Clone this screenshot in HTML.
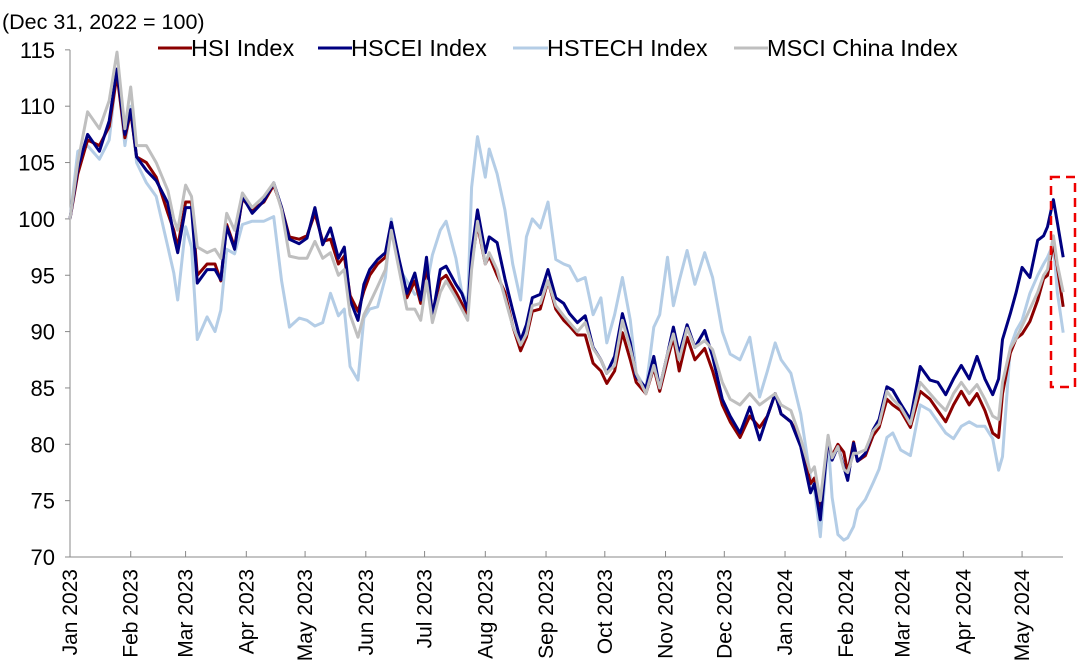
<!DOCTYPE html>
<html><head><meta charset="utf-8"><style>
html,body{margin:0;padding:0;background:#fff;}
svg{display:block;font-family:"Liberation Sans",Arial,sans-serif;}
</style></head><body>
<svg id="chart" width="1080" height="663" viewBox="0 0 1080 663">
<text x="2" y="29" font-size="21.5" fill="#000">(Dec 31, 2022 = 100)</text>
<g id="legend">
<g><line x1="158" y1="48" x2="192" y2="48" stroke="#8b0000" stroke-width="3"/><text x="191" y="56" font-size="23.5">HSI Index</text></g>
<g><line x1="318" y1="48" x2="352" y2="48" stroke="#000080" stroke-width="3"/><text x="351" y="56" font-size="23.5">HSCEI Index</text></g>
<g><line x1="513" y1="48" x2="548" y2="48" stroke="#b4cde6" stroke-width="3"/><text x="547" y="56" font-size="23.5">HSTECH Index</text></g>
<g><line x1="734" y1="48" x2="768" y2="48" stroke="#bfbfbf" stroke-width="3"/><text x="767" y="56" font-size="23.5">MSCI China Index</text></g>
</g>
<g id="axes"></g>
<g id="series"></g>
<rect x="1051" y="177" width="24" height="210" fill="none" stroke="#e00" stroke-width="2.5" stroke-dasharray="9,6"/>
</svg>
<script>
const days = [0,4,9,15,20,24,28,31,34,39,
44,50,53,55,59,62,65,70,74,77,
80,84,88,93,99,104,108,112,117,121,
125,129,133,137,140,143,147,150,153,157,
161,164,168,172,176,179,182,185,189,192,
197,200,203,205,208,212,214,218,222,226,
230,233,236,240,244,248,252,255,259,263,
267,271,274,278,282,286,289,294,298,301,
305,308,311,315,319,324,328,333,337,342,
347,352,356,360,363,368,373,378,380,383,
387,389,392,395,397,400,402,406,410,413,
417,420,424,429,434,439,443,447,451,455,
459,463,467,471,474,476,480,483,486,490,
494,497,499,502,504,507];
const hsi = [100,104,107,106.5,108.2,112.8,107.2,109.5,105.5,105,
103.7,100.5,99,97.5,101.5,101.5,95,96,96,94.5,
99.5,97.5,101.8,100.8,101.5,103,101,98.4,98.2,98.5,
100.5,98,98.2,96,96.7,93.2,91.8,93.6,95,96,
96.6,99.3,96,93,94.5,92.5,95.8,91.6,94.6,95,
93.5,92.5,91.5,96,99.5,96,96.7,95,93.5,90.5,
88.3,89.5,91.8,92,94.5,92,91,90.5,89.7,89.7,
87.2,86.5,85.4,86.5,89.9,87.5,85.5,84.5,86.8,84.7,
87.5,89.5,86.5,89.5,87.5,88.5,86.5,83.5,82,80.6,
82.5,81.5,82.5,84.5,82.7,82,80.4,76.5,77,74.5,
80.3,79,80,79.3,77.5,80.2,78.5,79,80.8,81.5,
84,83.5,83,81.5,84.7,84,83,82,83.5,84.7,
83.5,84.5,83,81,80.6,84.5,88.1,89.4,89.8,90.9,
92.8,94.7,95,97.9,95.8,92.2];
const hscei = [100,104.5,107.5,106,108.7,113.3,107.5,109.7,105.5,104.3,
103.4,101.4,98.5,97,101,101,94.3,95.5,95.5,94.6,
99.3,97.3,102,100.5,101.6,103.2,101,98.2,97.8,98.3,
101,97.7,99.2,96.5,97.5,92.8,91,94.2,95.5,96.4,
97,99.7,96.4,93.4,95.2,92.8,96.6,91.3,95.5,95.8,
94.2,93.4,91.9,97,100.8,97,98.4,97.9,94.7,91.9,
89.2,90.6,93,93.3,95.5,93,92.5,91.6,90.8,91.4,
88.6,87.5,86.3,87.8,91.6,89,86,85,87.8,85,
88,90.4,88,90.6,88.6,90.1,87.8,84,82.5,81,
83.3,80.4,82.5,84.5,82.7,82,79.8,75.7,76.5,73.3,
80.6,78.6,79.8,78,76.8,80.1,78.5,79.2,81.3,82.2,
85.1,84.8,83.6,82.2,86.9,85.7,85.5,84.4,85.8,87,
85.8,87.8,85.8,84.4,85.8,89.3,91.6,93.5,95.7,94.8,
98.1,98.5,99.3,101.7,99.7,96.6];
const hstech = [100,106,106.5,105.3,107,113.2,106.5,110,105,103.2,
102,97.5,95.2,92.8,99.3,97.5,89.3,91.3,90,91.9,
97.3,96.9,99.5,99.8,99.8,100.2,94.5,90.4,91.2,91,
90.5,90.8,93.4,91.4,92,86.9,85.7,91.2,92,92.2,
94.8,100,95.6,94.5,93.3,93.5,94,96.8,99,99.8,
96.5,93.5,92.5,102.8,107.3,103.7,106.2,104,100.8,96,
92.8,98.4,100,99.2,101.5,96.4,96,95.8,94.5,94.8,
91.5,93,89,91.5,94.8,91,86.3,84.9,90.4,91.5,
96.6,92.3,94.5,97.2,94.2,97,94.8,90,88,87.5,
89.5,84.2,86.5,89,87.5,86.3,82.7,77,76,71.8,
80.4,75.3,72,71.5,71.7,72.7,74.2,75.1,76.6,77.8,
80.6,81,79.5,79,83.5,83,82,81,80.5,81.6,
82,81.6,81.6,80.5,77.7,78.9,88.6,90.1,91,93.4,
95,96,96.6,97.8,93.5,89.9];
const msci = [100,105,109.5,108,110.5,114.8,108,111.7,106.5,106.5,
105,102.5,100,99,103,102,97.5,97,97.3,96.5,
100.5,99,102.3,101,102,103.2,100.8,96.7,96.5,96.5,
98,96.5,97,95,95.5,91.5,89.5,91.5,92.5,94,
95.5,99,95.5,92,92,91,94.5,90.8,93.5,94.5,
93,92,91,95.5,99.8,96,97,95.5,93,90.5,
88.8,89.8,92.3,92.5,94.5,92.3,91.4,90.8,90,90.8,
88.5,87.5,86.3,87,91,88.5,86.3,84.5,87,85,
88,89.8,87.5,90.3,88.6,89.2,88.4,85.5,84,83.5,
84.5,83.5,84,84.5,83.5,83,80.5,77.5,78,75,
80.8,78.8,79.8,77.8,77.5,79.2,79.2,79.5,81.2,81.8,
84.7,84,83.3,81.8,85.5,84.5,83.7,83,84.5,85.5,
84.5,85.3,84,82.5,82.2,85.5,88.5,89.4,90.5,92,
93.5,95,95.5,98.5,96,93.5];
const yTicks = [70,75,80,85,90,95,100,105,110,115];
const monthLabels = ["Jan 2023","Feb 2023","Mar 2023","Apr 2023","May 2023","Jun 2023","Jul 2023","Aug 2023","Sep 2023","Oct 2023","Nov 2023","Dec 2023","Jan 2024","Feb 2024","Mar 2024","Apr 2024","May 2024"];

const NS = "http://www.w3.org/2000/svg";
const X0 = 70, PXD = 1.959, YB = 557, PXU = 11.27;
function xS(d){ return X0 + d*PXD; }
function yS(v){ return YB - (v-70)*PXU; }
function mk(tag, attrs, parent){ const e=document.createElementNS(NS,tag); for(const k in attrs) e.setAttribute(k,attrs[k]); parent.appendChild(e); return e; }

const axes = document.getElementById('axes');
const yAxis = mk('line',{x1:X0,y1:yS(115),x2:X0,y2:YB,stroke:'#888','stroke-width':1},axes);


const xAxis = mk('line',{x1:X0,y1:YB,x2:1063,y2:YB,stroke:'#888','stroke-width':1},axes);


yTicks.forEach(v=>{
  mk('line',{x1:X0-5,y1:yS(v),x2:X0,y2:yS(v),stroke:'#888'},axes);
  const t = mk('text',{x:55,y:yS(v)+8,'font-size':22,'text-anchor':'end'},axes);
  t.textContent = v;
  
  
});
const base = Date.UTC(2023,0,1);
monthLabels.forEach((lab,i)=>{
  const y = 2023 + Math.floor(i/12), m = i%12;
  const d = (Date.UTC(y,m,1)-base)/86400000;
  const x = xS(d);
  mk('line',{x1:x,y1:YB-6,x2:x,y2:YB,stroke:'#888'},axes);
  const t = mk('text',{x:0,y:0,'font-size':21,'text-anchor':'end',transform:`translate(${x+7},${YB+12}) rotate(-90)`},axes);
  t.textContent = lab;
  
  
});
const sg = document.getElementById('series');
[[hstech,'#b4cde6','hstech-line'],[hsi,'#8b0000','hsi-line'],[hscei,'#000080','hscei-line'],[msci,'#bfbfbf','msci-line']].forEach(([vals,col,name])=>{
  const pts = vals.map((v,i)=>xS(days[i]).toFixed(1)+','+yS(v).toFixed(1)).join(' ');
  const p = mk('polyline',{points:pts,fill:'none',stroke:col,'stroke-width':3,'stroke-linejoin':'round'},sg);
  
  
});
</script>
</body></html>
